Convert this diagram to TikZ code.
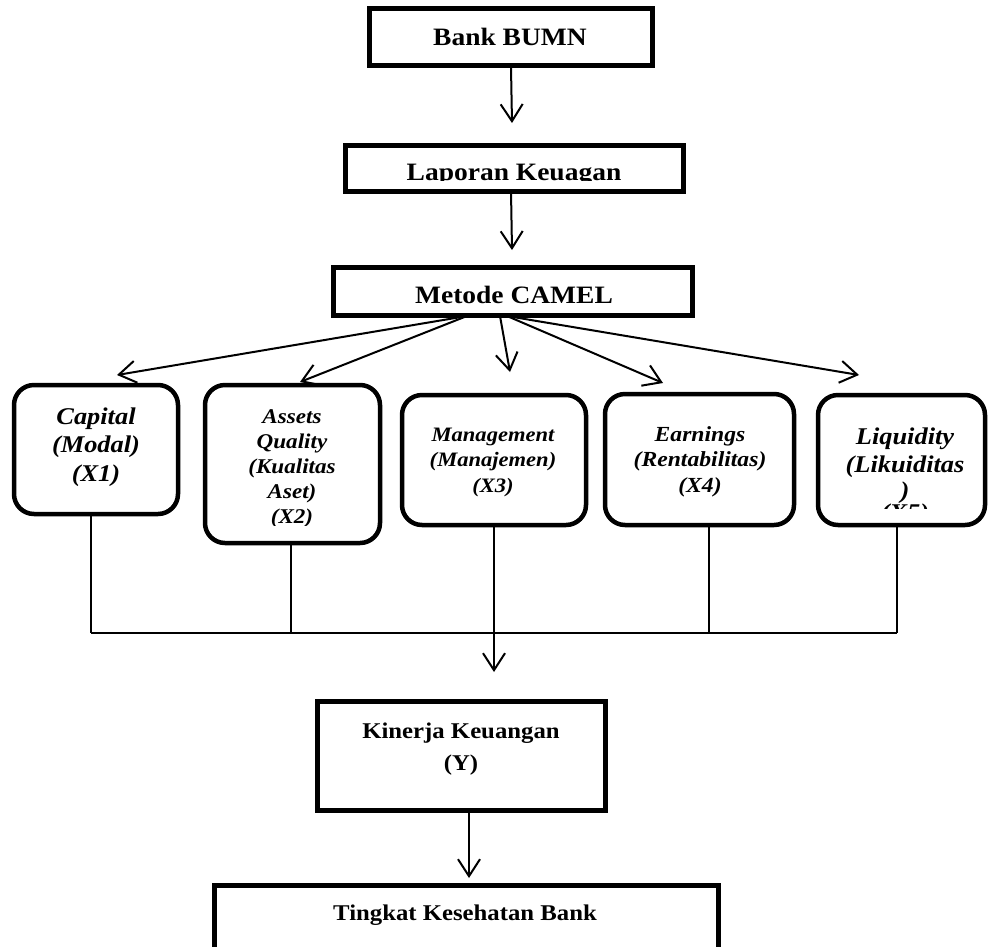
\documentclass[tikz,border=0pt]{standalone}
\usepackage{fontspec}
\setmainfont{Liberation Serif}[FakeStretch=1.1]
\usetikzlibrary{arrows.meta}
\begin{document}
\begin{tikzpicture}[x=1pt,y=-1pt,
 sqbox/.style={draw,line width=5pt,rectangle,inner sep=0pt},
 rbox/.style={draw,line width=4.5pt,rounded corners=20pt,inner sep=0pt},
 arr/.style={line width=2pt,-{Straight Barb[length=17pt,width=22pt,line width=2pt]}},
 conn/.style={line width=1.6pt},
 btxt/.style={font=\fontsize{#1}{#1}\selectfont\bfseries,anchor=base,inner sep=0pt},
 itxt/.style={font=\fontsize{#1}{#1}\selectfont\bfseries\itshape,anchor=base,inner sep=0pt}
]
\useasboundingbox (0,0) rectangle (990,946);
\fill[white] (0,0) rectangle (990,946);

% square boxes
\node[sqbox,minimum width=283pt,minimum height=57pt] (bank) at (510.5,36.5) {};
\node[sqbox,minimum width=338pt,minimum height=46pt] (lap) at (514,168) {};
\node[sqbox,minimum width=359pt,minimum height=48pt] (met) at (512.5,291) {};
\node[sqbox,minimum width=288pt,minimum height=109pt] (kin) at (461,755.5) {};
\node[sqbox,minimum width=504pt,minimum height=105pt] (ting) at (466,937.5) {};

% rounded boxes
\node[rbox,minimum width=164pt,minimum height=129pt] (cap) at (96,449.5) {};
\node[rbox,minimum width=175pt,minimum height=158pt] (ast) at (292.5,464) {};
\node[rbox,minimum width=184pt,minimum height=130pt] (man) at (494,460) {};
\node[rbox,minimum width=189pt,minimum height=131pt] (ear) at (699.5,459.5) {};
\node[rbox,minimum width=167pt,minimum height=130pt] (liq) at (901.5,460) {};

% texts of square boxes
\node[btxt=25] (tbank) at (510,45) {Bank BUMN};
\begin{scope}
\clip (345,147) rectangle (683,180.5);
\node[btxt=25] (tlap) at (514,180) {Laporan Keuagan};
\end{scope}
\node[btxt=25] (tmet) at (514,303) {Metode CAMEL};
\node[btxt=22.5] (tkin1) at (461,738) {Kinerja Keuangan};
\node[btxt=22.5] (tkin2) at (461,770) {(Y)};
\node[btxt=22.5] (tting) at (465,920) {Tingkat Kesehatan Bank};

% texts of rounded boxes
\foreach \t [count=\i from 0] in {{Capital},{(Modal)},{(X1)}}
  \node[itxt=24] (tcap\i) at (96,424+28.5*\i) {\t};
\begin{scope}
\clip (206,386) rectangle (379,525);
\foreach \t [count=\i from 0] in {{Assets},{Quality},{(Kualitas},{Aset)},{(X2)}}
  \node[itxt=21] (tast\i) at (292,423+25*\i) {\t};
\end{scope}
\foreach \t [count=\i from 0] in {{Management},{(Manajemen)},{(X3)}}
  \node[itxt=20.5] (tman\i) at (493,441+25.5*\i) {\t};
\foreach \t [count=\i from 0] in {{Earnings},{(Rentabilitas)},{(X4)}}
  \node[itxt=21.5] (tear\i) at (700,441+25.5*\i) {\t};
\begin{scope}
\clip (819,396) rectangle (984,508);
\node[itxt=24] (tliq0) at (905,444) {Liquidity};
\node[itxt=24] (tliq1) at (905,472) {(Likuiditas};
\node[itxt=24] (tliq2) at (905,498) {)};
\node[itxt=24] (tliq3) at (905,520) {(X5)};
\end{scope}

% arrow coordinates
\coordinate (a1) at (512,123);
\coordinate (a2s) at (511,191);
\coordinate (a2) at (512,250);
\coordinate (mL) at (467,316);
\coordinate (mM) at (500,316);
\coordinate (mR) at (507,316);
\coordinate (tcapA) at (117,375);
\coordinate (tastA) at (300,382);
\coordinate (tmanA) at (510,372);
\coordinate (tearA) at (663,383);
\coordinate (tliqA) at (859,375);
\coordinate (j1) at (91,633);
\coordinate (j2) at (291,633);
\coordinate (j3) at (494,633);
\coordinate (j4) at (709,633);
\coordinate (j5) at (897,633);
\coordinate (kA) at (494,672);
\coordinate (tA) at (469,878);

\draw[arr] (bank.south -| 511,0) -- (a1);
\draw[arr] (a2s) -- (a2);
\draw[arr] (mL) -- (tcapA);
\draw[arr] (mL) -- (tastA);
\draw[arr] (mM) -- (tmanA);
\draw[arr] (mR) -- (tearA);
\draw[arr] (mR) -- (tliqA);

\draw[conn] (cap.south -| j1) -- (j1);
\draw[conn] (ast.south -| j2) -- (j2);
\draw[conn] (ear.south -| j4) -- (j4);
\draw[conn] (liq.south -| j5) -- (j5);
\draw[conn] (j1) -- (j5);
\draw[arr] (man.south -| j3) -- (kA);
\draw[arr] (kin.south -| tA) -- (tA);
\end{tikzpicture}
\end{document}
